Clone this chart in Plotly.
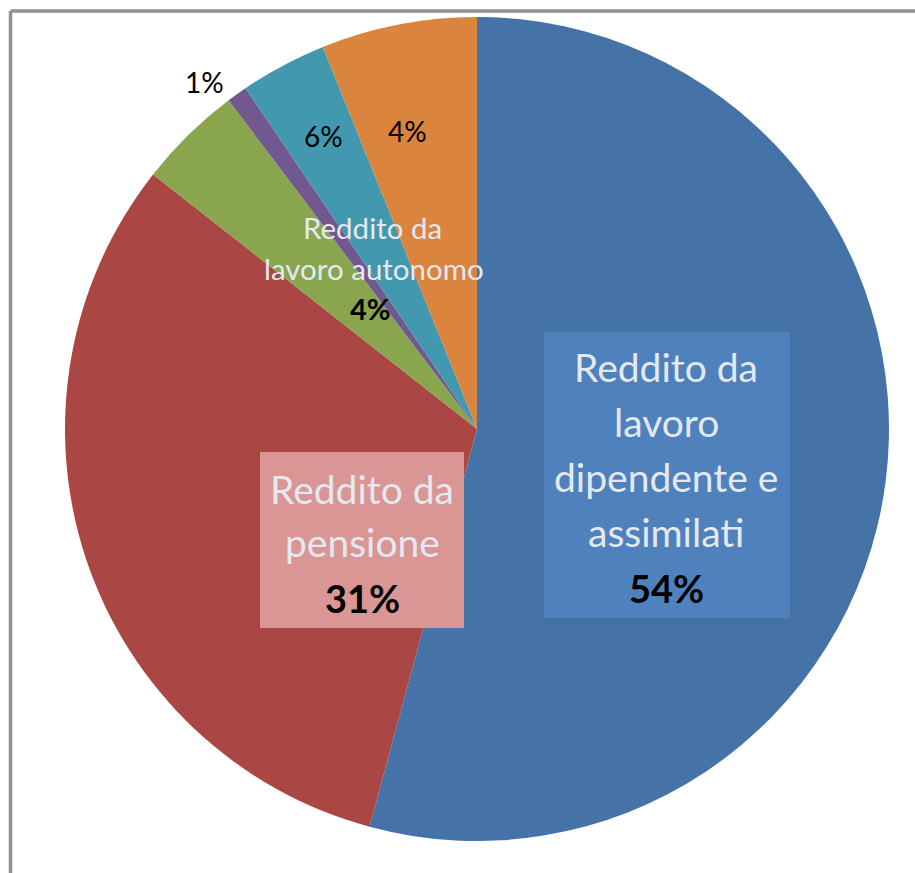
import plotly.graph_objects as go

# ---- data ----
categories = [
    "Reddito da lavoro dipendente e assimilati",
    "Reddito da pensione",
    "Reddito da lavoro autonomo",
    "Altro 1",
    "Altro 2",
    "Altro 3",
]
values = [54.2, 31.4, 4.1, 0.8, 3.4, 6.1]
pct_labels = ["54%", "31%", "4%", "1%", "6%", "4%"]
colors = ["#4572A7", "#AA4643", "#89A54E", "#71588F", "#4198AF", "#DB843D"]

W, H = 915, 873

def px(x):
    return x / W

def py(y):
    return 1 - y / H

fig = go.Figure(
    go.Pie(
        labels=categories,
        values=values,
        sort=False,
        direction="clockwise",
        rotation=0,
        marker=dict(colors=colors, line=dict(width=0)),
        textinfo="none",
        hoverinfo="label+percent",
        domain=dict(x=[px(65), px(889)], y=[py(841), py(17)]),
        showlegend=False,
    )
)

FONT = "Lato"
light = "#e4e9f1"
annotations = []
shapes = []

def add_text(text, x, y, size, color, bold=False):
    annotations.append(dict(
        x=px(x), y=py(y), xref="paper", yref="paper",
        text=("<b>%s</b>" % text) if bold else text,
        showarrow=False, xanchor="center", yanchor="middle",
        font=dict(family=FONT, size=size, color=color),
    ))

# boxes behind labels
shapes.append(dict(type="rect", xref="paper", yref="paper",
                   x0=px(544), x1=px(790), y0=py(618), y1=py(332),
                   fillcolor="#4F81BD", line=dict(width=0), layer="above"))
shapes.append(dict(type="rect", xref="paper", yref="paper",
                   x0=px(260), x1=px(464), y0=py(628), y1=py(452),
                   fillcolor="#D99694", line=dict(width=0), layer="above"))

# blue slice label
blue_lines = ["Reddito da", "lavoro", "dipendente e", "assimilati"]
for t, y in zip(blue_lines, [367, 422, 477, 532]):
    add_text(t, 666, y, 39, light)
add_text(pct_labels[0], 666, 588, 38, "#000000", bold=True)

# red slice label
for t, y in zip(["Reddito da", "pensione"], [489, 542]):
    add_text(t, 362, y, 39, light)
add_text(pct_labels[1], 362, 598, 38, "#000000", bold=True)

# green slice label
add_text("Reddito da", 372, 228, 29.5, light)
add_text("lavoro autonomo", 374, 268, 29.5, light)
add_text(pct_labels[2], 370, 308, 29, "#000000", bold=True)

# small slices
add_text(pct_labels[3], 204, 82, 28, "#000000")
add_text(pct_labels[4], 323, 136, 28, "#000000")
add_text(pct_labels[5], 407, 131, 28, "#000000")

# chart frame (top and left edges visible)
shapes.append(dict(type="line", xref="paper", yref="paper",
                   x0=px(10.5), x1=1.05, y0=py(11), y1=py(11),
                   line=dict(color="#909090", width=3.5)))
shapes.append(dict(type="line", xref="paper", yref="paper",
                   x0=px(10.5), x1=px(10.5), y0=-0.05, y1=py(11),
                   line=dict(color="#909090", width=3.5)))

fig.update_layout(
    width=W, height=H,
    margin=dict(l=0, r=0, t=0, b=0),
    paper_bgcolor="white",
    plot_bgcolor="white",
    annotations=annotations,
    shapes=shapes,
)

fig.write_html(
    "out.html",
    config={"displayModeBar": False},
    post_script="document.body.style.margin='0px';document.body.style.overflow='hidden';",
)
